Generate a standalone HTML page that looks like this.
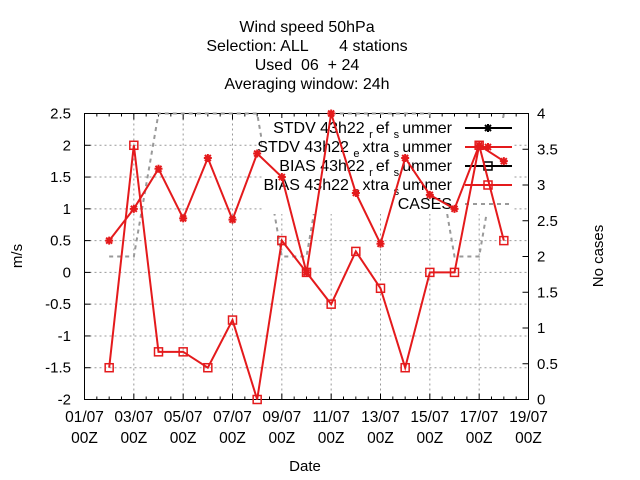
<!DOCTYPE html>
<html><head><meta charset="utf-8"><style>
body{margin:0;background:#fff}
svg{display:block;font-family:"Liberation Sans",sans-serif}
</style></head><body>
<svg id="chart" width="640" height="480">
<g font-size="16" text-anchor="middle" fill="#000">
<text x="307" y="32">Wind speed 50hPa</text>
<text x="307" y="51" xml:space="preserve">Selection: ALL       4 stations</text>
<text x="307" y="70" xml:space="preserve">Used  06  + 24</text>
<text x="307" y="89">Averaging window: 24h</text>
</g>
<text x="22" y="256" font-size="15" text-anchor="middle" transform="rotate(-90 22 256)">m/s</text>
<text x="603" y="256" font-size="15" text-anchor="middle" transform="rotate(-90 603 256)">No cases</text>
<text x="305" y="471" font-size="15" text-anchor="middle">Date</text>
<g id="grid"></g><g id="axes"></g><g id="series"></g>
</svg>
<script>
const days = [2,3,4,5,6,7,8,9,10,11,12,13,14,15,16,17,18];
const stdvExtra = [0.5,1.0,1.63,0.85,1.8,0.83,1.87,1.5,0.0,2.5,1.25,0.45,1.8,1.22,1.0,2.0,1.75];
const biasExtra = [-1.5,2.0,-1.25,-1.25,-1.5,-0.75,-2.0,0.5,0.0,-0.5,0.33,-0.25,-1.5,0.0,0.0,2.0,0.5];
const cases = [2,2,4,4,4,4,4,2,2,4,4,4,4,4,2,2,4];
const yTicks = ["-2","-1.5","-1","-0.5","0","0.5","1","1.5","2","2.5"];
const y2Ticks = ["0","0.5","1","1.5","2","2.5","3","3.5","4"];
const xTicks = ["01/07","03/07","05/07","07/07","09/07","11/07","13/07","15/07","17/07","19/07"];

const L=84.5,R=528.5,T=113.5,B=399.5;
const X=d=>L+(d-1)*(R-L)/18;
const Y=v=>B-(v+2)*(B-T)/4.5;
const Y2=v=>B-v*(B-T)/4;
const NS="http://www.w3.org/2000/svg";
function mk(parent,tag,attrs){const e=document.createElementNS(NS,tag);for(const k in attrs)e.setAttribute(k,attrs[k]);document.getElementById(parent).appendChild(e);return e;}

yTicks.forEach(t=>{const y=Y(+t);
 const g=mk('grid','line',{x1:L,x2:R,y1:y,y2:y,stroke:'#999','stroke-dasharray':'2,3','stroke-width':1});
 
 
 const tk=mk('axes','line',{x1:L,x2:L+6,y1:y,y2:y,stroke:'#000'});
 
 
 const tx=mk('axes','text',{x:71,y:y+5,'font-size':15,'text-anchor':'end'});tx.textContent=t;
 
 
});
y2Ticks.forEach(t=>{const y=Y2(+t);
 const tk=mk('axes','line',{x1:R-6,x2:R,y1:y,y2:y,stroke:'#000'});
 
 
 const tx=mk('axes','text',{x:537,y:y+5,'font-size':15});tx.textContent=t;
 
 
});
for(let i=0;i<=36;i++){const x=L+i*(R-L)/36;const major=i%4==0;
 const tk=mk('axes','line',{x1:x,x2:x,y1:B,y2:B-(major?6:3),stroke:'#000'});
 
 
 const tk2=mk('axes','line',{x1:x,x2:x,y1:T,y2:T+(major?6:3),stroke:'#000'});
 
 
}
xTicks.forEach((t,i)=>{const x=X(1+2*i);
 if(i>0&&i<xTicks.length-1){const g=mk('grid','line',{x1:x,x2:x,y1:T,y2:B,stroke:'#999','stroke-dasharray':'2,3'});
 
 }
 const a=mk('axes','text',{x:x,y:422,'font-size':15.5,'text-anchor':'middle'});a.textContent=t;
 
 
 const b=mk('axes','text',{x:x,y:443,'font-size':15.5,'text-anchor':'middle'});b.textContent='00Z';
 
 
});
const fr=mk('axes','rect',{x:L,y:T,width:R-L,height:B-T,fill:'none',stroke:'#000'});



const cl=mk('series','polyline',{points:days.map((d,i)=>X(d)+','+Y2(cases[i])).join(' '),fill:'none',stroke:'#999','stroke-width':2,'stroke-dasharray':'4,4'});



const lb=mk('series','rect',{x:262,y:118,width:250,height:96,fill:'#fff'});


const leg=[["STDV 43h22 ","r","ef","#000","star"],["STDV 43h22 ","e","xtra","#e41a1c","star"],["BIAS 43h22 ","r","ef","#000","sq"],["BIAS 43h22 ","e","xtra","#e41a1c","sq"]];
function star(x,y,c,name){const g=mk('series','path',{d:`M${x-4} ${y}H${x+4}M${x} ${y-4}V${y+4}M${x-3} ${y-3}L${x+3} ${y+3}M${x-3} ${y+3}L${x+3} ${y-3}`,stroke:c,'stroke-width':2});
 
 }
function sq(x,y,c,name){const g=mk('series','rect',{x:x-4,y:y-4,width:8,height:8,fill:'none',stroke:c,'stroke-width':1.5});
 
 }
leg.forEach((l,i)=>{const y=128+i*19;
 const t=mk('series','text',{x:452,y:y+5,'font-size':16,'text-anchor':'end'});
 t.setAttribute('xml:space','preserve');
 t.innerHTML=`${l[0]}<tspan dy="5" font-size="11">${l[1]} </tspan><tspan dy="-5">${l[2]} </tspan><tspan dy="5" font-size="11">s </tspan><tspan dy="-5">ummer</tspan>`;
 
 
 const ln=mk('series','line',{x1:465,x2:512,y1:y,y2:y,stroke:l[3],'stroke-width':2});
 
 
 if(l[4]=='star')star(488,y,l[3],'legend-marker');else sq(488,y,l[3],'legend-marker');
});
const ct=mk('series','text',{x:452,y:209,'font-size':16,'text-anchor':'end'});ct.textContent='CASES';


const cln=mk('series','line',{x1:465,x2:512,y1:204,y2:204,stroke:'#999','stroke-width':2,'stroke-dasharray':'4,4'});



const sl=mk('series','polyline',{points:days.map((d,i)=>X(d)+','+Y(stdvExtra[i])).join(' '),fill:'none',stroke:'#e41a1c','stroke-width':2});


days.forEach((d,i)=>star(X(d),Y(stdvExtra[i]),'#e41a1c','stdv-extra-point'));
const bl=mk('series','polyline',{points:days.map((d,i)=>X(d)+','+Y(biasExtra[i])).join(' '),fill:'none',stroke:'#e41a1c','stroke-width':2});


days.forEach((d,i)=>sq(X(d),Y(biasExtra[i]),'#e41a1c','bias-extra-point'));
</script>
</body></html>
